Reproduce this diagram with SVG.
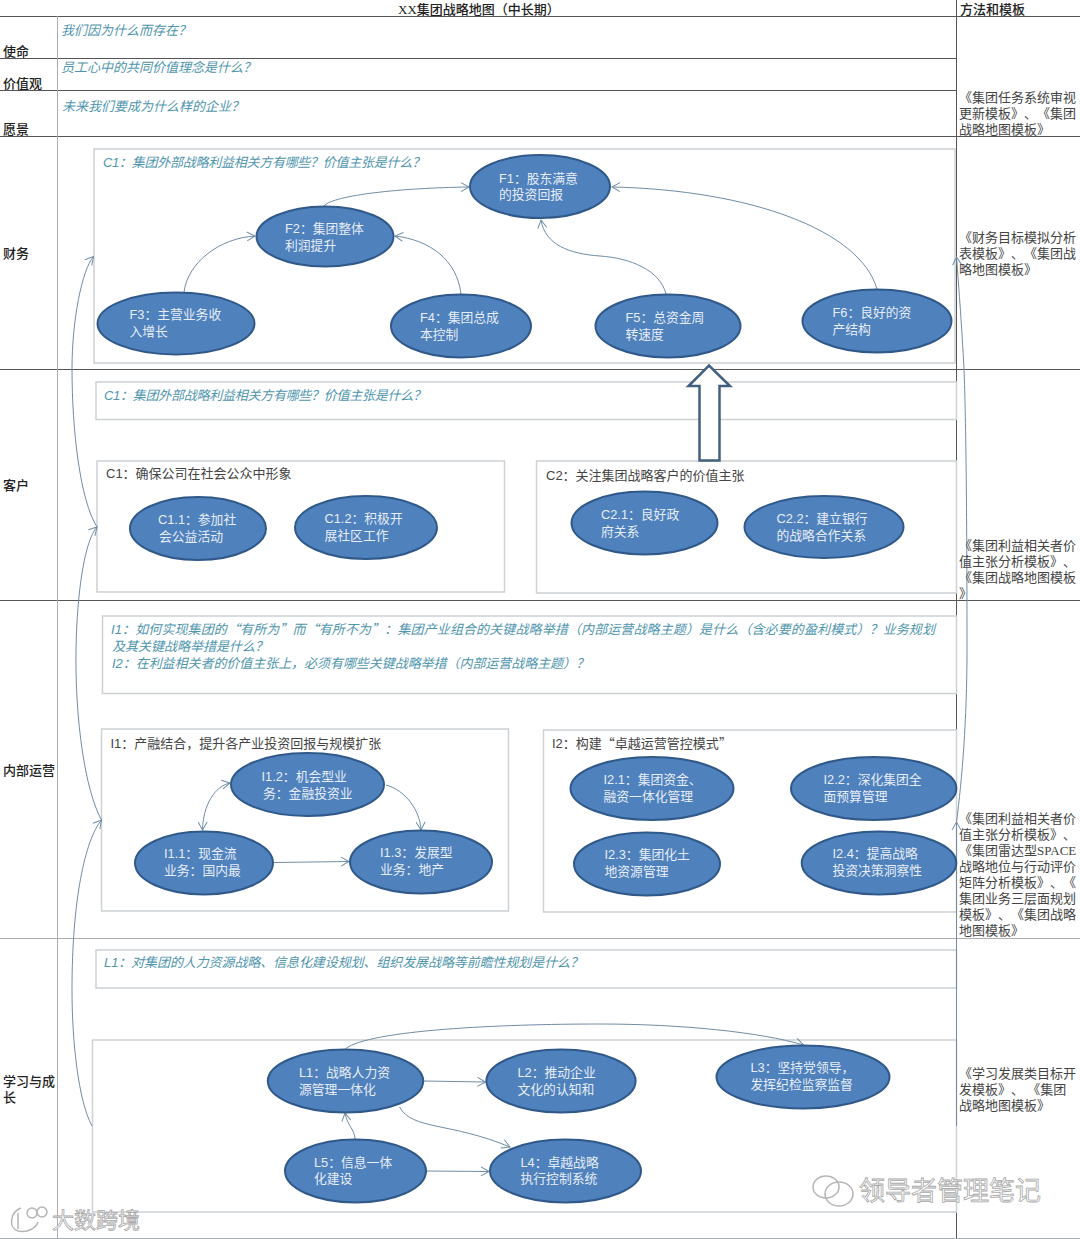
<svg xmlns="http://www.w3.org/2000/svg" width="1080" height="1239" viewBox="0 0 1080 1239">
<style>
text{font-family:"Liberation Sans","Noto Sans CJK SC",sans-serif;font-size:12.8px;text-spacing-trim:space-all}
.h{font-family:"Liberation Serif","Noto Sans CJK SC",serif;font-weight:500;font-size:13px;fill:#222}
.m{font-family:"Liberation Serif","Noto Sans CJK SC",serif;font-size:13px;fill:#444}
.q{font-style:italic;fill:#4f95ad;font-size:13px}
.t{fill:#444;font-size:13px}
.z{font-family:"Noto Sans CJK SC",sans-serif}
.n{fill:#e6edf5}
.g1{stroke:#555;stroke-width:1;fill:none}
.g2{stroke:#a9adb0;stroke-width:1;fill:none}
.b{fill:#fff;stroke:#cdd1d4;stroke-width:1.5}
.c{fill:none;stroke:#6f8da6;stroke-width:1;marker-end:url(#a)}
.e{fill:#4f81bd;stroke:#30598a;stroke-width:2}
.w{fill:#fff;stroke:#a8a8a8;stroke-width:.8;font-size:26px}
.ws{fill:none;stroke:#b4b4b4;stroke-width:1.5}
</style>
<defs>
<marker id="a" markerUnits="userSpaceOnUse" markerWidth="12" markerHeight="12" refX="9" refY="6" orient="auto"><path d="M1 1.5L9 6L1 10.5" fill="none" stroke="#6f8da6" stroke-width="1"/></marker>
<marker id="s" markerUnits="userSpaceOnUse" markerWidth="12" markerHeight="12" refX="9" refY="6" orient="auto-start-reverse"><path d="M1 1.5L9 6L1 10.5" fill="none" stroke="#6f8da6" stroke-width="1"/></marker>
</defs>
<rect width="1080" height="1239" fill="#fff"/>
<g id="grid">
<path class="g1" d="M0 16.5H1080M0 58.5H956M0 90.5H956M0 136.5H1080M0 369.5H1080M0 600.5H1080M956.5 0V1239"/>
<path class="g2" d="M0 938.5H1080M0 1238.5H1080M57.5 16V1239"/>
</g>
<g id="frames">
<rect class="b" x="94" y="149" width="861" height="214"/>
<rect class="b" x="96" y="382" width="860.5" height="37.5"/>
<rect class="b" x="97" y="461" width="407.5" height="131"/>
<rect class="b" x="536.5" y="461" width="420" height="132"/>
<rect class="b" x="102.5" y="616" width="854" height="77.5"/>
<rect class="b" x="101.5" y="729" width="407" height="182"/>
<rect class="b" x="543.5" y="730" width="413" height="182"/>
<rect class="b" x="96" y="950" width="860.5" height="38"/>
<rect class="b" x="92.5" y="1040" width="864" height="172"/>
</g>
<g id="connectors">
<path class="c" d="M184 292C188 262 220 238 255 236"/>
<path class="c" d="M461 294C457 260 430 240 395 236"/>
<path class="c" d="M324 205.7C335 195 400 188 469 187"/>
<path class="c" d="M666 294C660 270 630 258 600 256C570 254 545 245 541 220"/>
<path class="c" d="M877 289C860 230 750 190 612 187"/>
<path class="c" d="M92 1126C78 1100 72 1040 72 990C72 900 85 840 101.5 820"/>
<path class="c" d="M101.5 820C85 790 75 720 76 650C77 590 85 540 97 527"/>
<path class="c" d="M97 527C80 500 72 430 72 369C72 320 82 270 93.5 256.5"/>
<path class="c" d="M956.5 1126V822"/>
<path class="c" d="M956.5 822C962 780 967 720 967 650C967 520 966 420 964 369C962 330 959 290 956.5 257"/>
<path class="c" style="marker-start:url(#s)" d="M230 783C215 786 203 805 202.5 830"/>
<path class="c" d="M386 785C405 790 420 810 421 830"/>
<path class="c" d="M274 862.5L349 861.5"/>
<path class="c" d="M424 1081L485.5 1082"/>
<path class="c" d="M399.5 1107C412 1130 450 1122 510 1147"/>
<path class="c" d="M355 1139C355 1130 347 1125 345 1113"/>
<path class="c" d="M427 1171L489 1171.5"/>
<path class="c" d="M345.5 1048.7C370 1030 500 1024 600 1024C680 1024 760 1032 803.5 1045"/>
</g>
<g id="arrow-up"><path d="M699.5 460.5V386H688.5L709 365.5L730 386H719.5V460.5Z" fill="#fff" stroke="#41607f" stroke-width="2.5"/></g>
<g id="row-labels">
<text class="h" x="398" y="13.5">XX集团战略地图（中长期）</text>
<text class="h" x="960" y="13.5">方法和模板</text>
<text class="h" x="3" y="56">使命</text>
<text class="h" x="3" y="88">价值观</text>
<text class="h" x="3" y="134">愿景</text>
<text class="h" x="3" y="258">财务</text>
<text class="h" x="3" y="490">客户</text>
<text class="h" x="3" y="775">内部运营</text>
<text class="h" x="3" y="1086">学习与成</text>
<text class="h" x="3" y="1102">长</text>
</g>
<g id="questions">
<text class="q" x="61" y="34.5">我们因为什么而存在？</text>
<text class="q" x="61" y="72">员工心中的共同价值理念是什么？</text>
<text class="q" x="62" y="110.5">未来我们要成为什么样的企业？</text>
<text class="q" x="103" y="167" textLength="322">C1：集团外部战略利益相关方有哪些？价值主张是什么？</text>
<text class="q" x="104" y="400" textLength="322">C1：集团外部战略利益相关方有哪些？价值主张是什么？</text>
<text class="q" x="111" y="634" textLength="824">I1：如何实现集团的<tspan class="z">“</tspan>有所为<tspan class="z">”</tspan>而<tspan class="z">“</tspan>有所不为<tspan class="z">”</tspan>：集团产业组合的关键战略举措（内部运营战略主题）是什么（含必要的盈利模式）？业务规划</text>
<text class="q" x="112" y="650.5">及其关键战略举措是什么？</text>
<text class="q" x="112" y="667.5" textLength="477">I2：在利益相关者的价值主张上，必须有哪些关键战略举措（内部运营战略主题）？</text>
<text class="q" x="104" y="967" textLength="479">L1：对集团的人力资源战略、信息化建设规划、组织发展战略等前瞻性规划是什么？</text>
<text class="t" x="106" y="478">C1：确保公司在社会公众中形象</text>
<text class="t" x="546" y="480">C2：关注集团战略客户的价值主张</text>
<text class="t" x="110.5" y="747.5">I1：产融结合，提升各产业投资回报与规模扩张</text>
<text class="t" x="552" y="748">I2：构建<tspan class="z">“</tspan>卓越运营管控模式<tspan class="z">”</tspan></text>
</g>
<g id="F1"><ellipse class="e" cx="540" cy="186.5" rx="70" ry="31.5"/><text class="n" x="499" y="182.5">F1：股东满意</text><text class="n" x="499" y="198.5">的投资回报</text></g>
<g id="F2"><ellipse class="e" cx="325" cy="236.5" rx="68.5" ry="30"/><text class="n" x="285" y="233">F2：集团整体</text><text class="n" x="285" y="250">利润提升</text></g>
<g id="F3"><ellipse class="e" cx="176" cy="323.5" rx="78.5" ry="31"/><text class="n" x="129.5" y="319">F3：主营业务收</text><text class="n" x="129.5" y="336">入增长</text></g>
<g id="F4"><ellipse class="e" cx="461" cy="326" rx="70" ry="31.5"/><text class="n" x="420" y="322">F4：集团总成</text><text class="n" x="420" y="339">本控制</text></g>
<g id="F5"><ellipse class="e" cx="668" cy="326" rx="72.5" ry="31.5"/><text class="n" x="625.5" y="322">F5：总资金周</text><text class="n" x="625.5" y="339">转速度</text></g>
<g id="F6"><ellipse class="e" cx="877" cy="321" rx="74.5" ry="31.5"/><text class="n" x="832.5" y="317">F6：良好的资</text><text class="n" x="832.5" y="334">产结构</text></g>
<g id="C1-1"><ellipse class="e" cx="198" cy="528.5" rx="68" ry="31.5"/><text class="n" x="158" y="524">C1.1：参加社</text><text class="n" x="159" y="541">会公益活动</text></g>
<g id="C1-2"><ellipse class="e" cx="366" cy="527.5" rx="71" ry="31.5"/><text class="n" x="324.5" y="523">C1.2：积极开</text><text class="n" x="324.5" y="540">展社区工作</text></g>
<g id="C2-1"><ellipse class="e" cx="644.5" cy="523" rx="73" ry="31.5"/><text class="n" x="601" y="519">C2.1：良好政</text><text class="n" x="601" y="536">府关系</text></g>
<g id="C2-2"><ellipse class="e" cx="824" cy="527" rx="79.5" ry="31"/><text class="n" x="776.5" y="523">C2.2：建立银行</text><text class="n" x="776.5" y="540">的战略合作关系</text></g>
<g id="I1-2"><ellipse class="e" cx="307.5" cy="784.5" rx="76.5" ry="31.5"/><text class="n" x="261.5" y="781">I1.2：机会型业</text><text class="n" x="263" y="798">务：金融投资业</text></g>
<g id="I1-1"><ellipse class="e" cx="204" cy="863" rx="69" ry="31.5"/><text class="n" x="164" y="858">I1.1：现金流</text><text class="n" x="164" y="875">业务：国内最</text></g>
<g id="I1-3"><ellipse class="e" cx="421" cy="862" rx="71" ry="31.5"/><text class="n" x="380" y="857">I1.3：发展型</text><text class="n" x="380" y="874">业务：地产</text></g>
<g id="I2-1"><ellipse class="e" cx="652" cy="788.5" rx="81.5" ry="31.5"/><text class="n" x="603.5" y="784">I2.1：集团资金、</text><text class="n" x="603.5" y="801">融资一体化管理</text></g>
<g id="I2-2"><ellipse class="e" cx="873.7" cy="788.5" rx="82.7" ry="31.5"/><text class="n" x="823.5" y="784">I2.2：深化集团全</text><text class="n" x="823.5" y="801">面预算管理</text></g>
<g id="I2-3"><ellipse class="e" cx="647" cy="864" rx="73" ry="31.5"/><text class="n" x="604.5" y="859">I2.3：集团化土</text><text class="n" x="604.5" y="876">地资源管理</text></g>
<g id="I2-4"><ellipse class="e" cx="879" cy="863" rx="77.3" ry="31.5"/><text class="n" x="832.5" y="858">I2.4：提高战略</text><text class="n" x="832.5" y="875">投资决策洞察性</text></g>
<g id="L1"><ellipse class="e" cx="345.5" cy="1081" rx="77.7" ry="31.5"/><text class="n" x="299" y="1077">L1：战略人力资</text><text class="n" x="299" y="1094">源管理一体化</text></g>
<g id="L2"><ellipse class="e" cx="561" cy="1081" rx="74.6" ry="31.5"/><text class="n" x="517.5" y="1077">L2：推动企业</text><text class="n" x="517.5" y="1094">文化的认知和</text></g>
<g id="L3"><ellipse class="e" cx="803" cy="1077" rx="86.5" ry="31.5"/><text class="n" x="750.5" y="1072">L3：坚持党领导，</text><text class="n" x="750.5" y="1089">发挥纪检监察监督</text></g>
<g id="L4"><ellipse class="e" cx="565.5" cy="1171" rx="75.5" ry="31.5"/><text class="n" x="520.5" y="1166.5">L4：卓越战略</text><text class="n" x="520.5" y="1183">执行控制系统</text></g>
<g id="L5"><ellipse class="e" cx="355.5" cy="1171" rx="70.5" ry="31.5"/><text class="n" x="314" y="1166.5">L5：信息一体</text><text class="n" x="314" y="1183">化建设</text></g>
<g id="templates">
<text class="m" x="959" y="101.5">《集团任务系统审视</text><text class="m" x="959" y="117.5">更新模板》、《集团</text><text class="m" x="959" y="133.5">战略地图模板》</text>
<text class="m" x="959" y="241.5">《财务目标模拟分析</text><text class="m" x="959" y="257.5">表模板》、《集团战</text><text class="m" x="959" y="273.5">略地图模板》</text>
<text class="m" x="959" y="549.5">《集团利益相关者价</text><text class="m" x="959" y="565.5">值主张分析模板》、</text><text class="m" x="959" y="581.5">《集团战略地图模板</text><text class="m" x="959" y="597.5">》</text>
<text class="m" x="959" y="822.5">《集团利益相关者价</text><text class="m" x="959" y="838.5">值主张分析模板》、</text><text class="m" x="959" y="854.5">《集团雷达型SPACE</text><text class="m" x="959" y="870.5">战略地位与行动评价</text><text class="m" x="959" y="886.5">矩阵分析模板》、《</text><text class="m" x="959" y="902.5">集团业务三层面规划</text><text class="m" x="959" y="918.5">模板》、《集团战略</text><text class="m" x="959" y="934.5">地图模板》</text>
<text class="m" x="959" y="1077.5">《学习发展类目标开</text><text class="m" x="959" y="1093.5">发模板》、 《集团</text><text class="m" x="959" y="1109.5">战略地图模板》</text>
</g>
<g id="watermarks">
<path class="ws" d="M21 1208C10 1212 8 1228 18 1231C28 1233 36 1228 38 1222M18 1213V1229"/>
<circle class="ws" cx="32" cy="1213" r="5"/><circle class="ws" cx="42" cy="1212" r="5"/>
<text class="w" style="font-size:22px" x="52" y="1228">大数跨境</text>
<ellipse class="ws" cx="826" cy="1187" rx="13" ry="11"/><ellipse class="ws" cx="839" cy="1194" rx="14" ry="12"/>
<text class="w" x="859" y="1200">领导者管理笔记</text>
</g>
</svg>
